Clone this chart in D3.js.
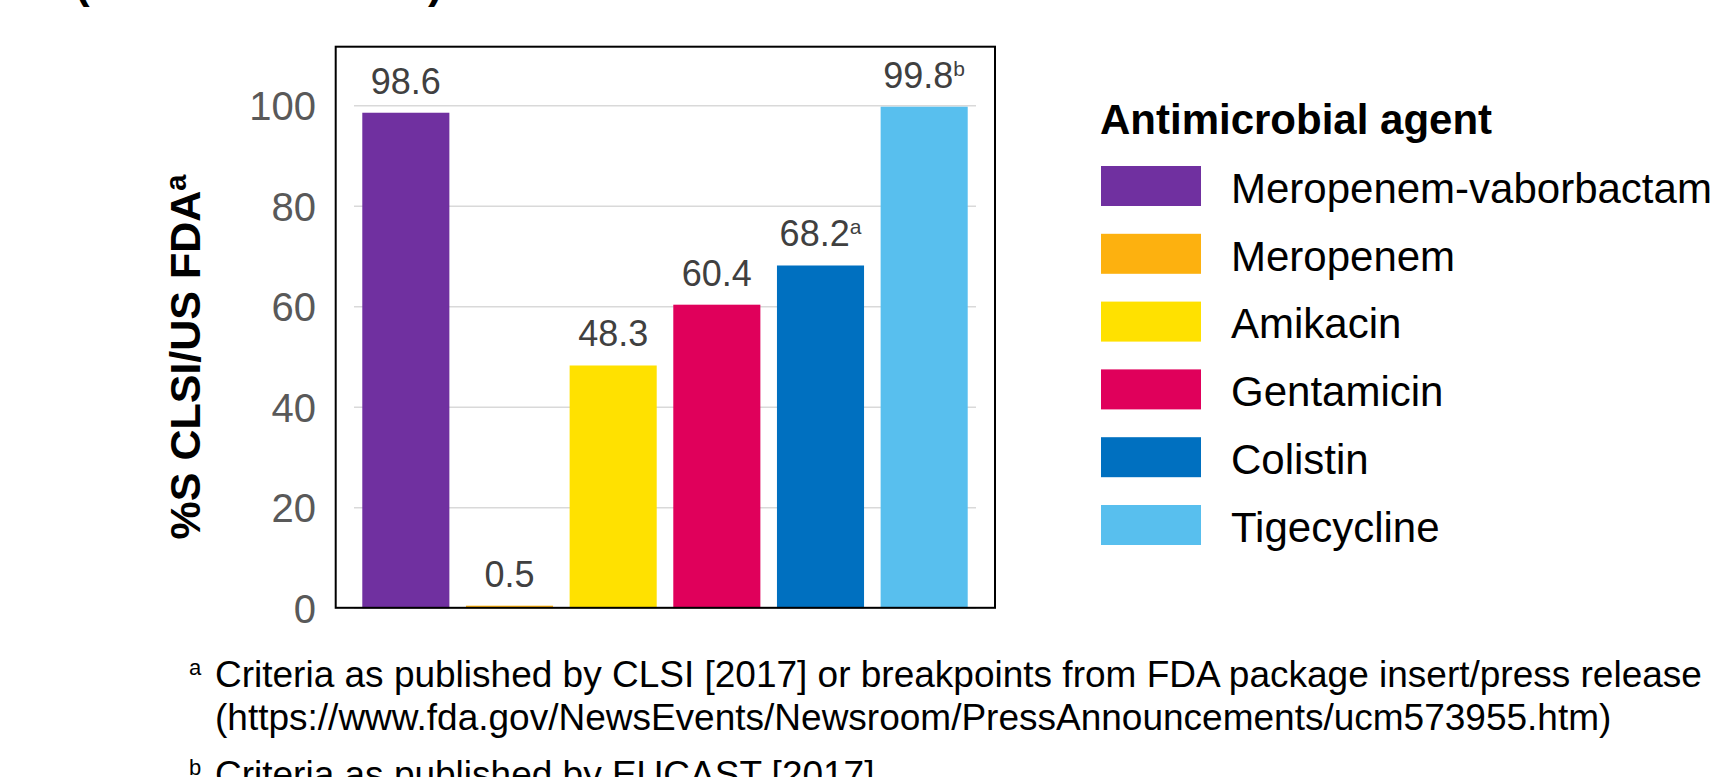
<!DOCTYPE html>
<html>
<head>
<meta charset="utf-8">
<script src="https://cdn.jsdelivr.net/npm/d3@7"></script>
<style>
  html, body { margin: 0; padding: 0; background: #ffffff; }
  svg { display: block; font-family: "Liberation Sans", Arial, sans-serif; }
</style>
</head>
<body>
<svg id="chart" width="1725" height="777"></svg>
<script>
// Susceptibility (%S) by antimicrobial agent
const agents = ["Meropenem-vaborbactam", "Meropenem", "Amikacin", "Gentamicin", "Colistin", "Tigecycline"];
const susceptible = [98.6, 0.5, 48.3, 60.4, 68.2, 99.8];
const valueNotes = ["", "", "", "", "a", "b"];
const agentColors = ["#7030A0", "#FDB10F", "#FFE100", "#E0005B", "#0070C0", "#58BFEE"];
const yTicks = [0, 20, 40, 60, 80, 100];
const yTitle = "%S CLSI/US FDA";
const yTitleNote = "a";
const legendTitle = "Antimicrobial agent";
const footnotes = [
  { mark: "a", lines: ["Criteria as published by CLSI [2017] or breakpoints from FDA package insert/press release",
                       "(https://www.fda.gov/NewsEvents/Newsroom/PressAnnouncements/ucm573955.htm)"] },
  { mark: "b", lines: ["Criteria as published by EUCAST [2017]"] }
];

const svg = d3.select("#chart");

// Title line above the chart (only its lower edge falls inside the page)
svg.append("text").attr("x", 75).attr("y", -2.5)
  .attr("font-size", 44).attr("font-weight", "bold").attr("fill", "#000").text("(");
svg.append("text").attr("x", 428).attr("y", -2.5)
  .attr("font-size", 44).attr("font-weight", "bold").attr("fill", "#000").text(")");

// Scales
const x = d3.scaleBand().domain(agents).range([354, 976]).paddingInner(0.16).paddingOuter(0.08);
const y = d3.scaleLinear().domain([0, 100]).range([608.2, 105.7]);
const color = d3.scaleOrdinal().domain(agents).range(agentColors);

// Gridlines
svg.append("g").selectAll("line").data(yTicks).join("line")
  .attr("x1", 354).attr("x2", 976)
  .attr("y1", d => y(d)).attr("y2", d => y(d))
  .attr("stroke", "#D9D9D9").attr("stroke-width", 1.6);

// Y axis tick labels
const yAxis = d3.axisLeft(y).tickValues(yTicks).tickSize(0).tickPadding(0).tickFormat(d3.format("d"));
const yAxisG = svg.append("g").attr("transform", "translate(316,0)").call(yAxis);
yAxisG.select(".domain").remove();
yAxisG.selectAll("text")
  .attr("font-family", "'Liberation Sans', Arial, sans-serif")
  .attr("font-size", 40).attr("fill", "#595959").attr("dy", "0.35em");

// Bars
const data = agents.map((a, i) => ({ agent: a, value: susceptible[i], note: valueNotes[i] }));
svg.append("g").selectAll("rect").data(data).join("rect")
  .attr("x", d => x(d.agent)).attr("width", x.bandwidth())
  .attr("y", d => y(d.value)).attr("height", d => y(0) - y(d.value))
  .attr("fill", d => color(d.agent));

// Value labels
const labels = svg.append("g").selectAll("text").data(data).join("text")
  .attr("x", d => x(d.agent) + x.bandwidth() / 2)
  .attr("y", d => y(d.value) - 19)
  .attr("text-anchor", "middle").attr("font-size", 36).attr("fill", "#404040");
labels.append("tspan").text(d => d.value.toFixed(1));
labels.filter(d => d.note).append("tspan")
  .attr("font-size", 21).attr("dy", -12).text(d => d.note);

// Chart frame
svg.append("rect").attr("x", 335.7).attr("y", 46.7).attr("width", 995 - 335.7).attr("height", 607.8 - 46.7)
  .attr("fill", "none").attr("stroke", "#000").attr("stroke-width", 2);

// Y axis title
const yt = svg.append("text")
  .attr("transform", "translate(200,357) rotate(-90)")
  .attr("text-anchor", "middle").attr("font-size", 43).attr("font-weight", "bold").attr("fill", "#000");
yt.append("tspan").text(yTitle);
yt.append("tspan").attr("font-size", 29).attr("dy", -14).text(yTitleNote);

// Legend
const legend = svg.append("g").attr("transform", "translate(1101,0)");
legend.append("text").attr("x", -1).attr("y", 133.5)
  .attr("font-size", 42).attr("font-weight", "bold").attr("fill", "#000").text(legendTitle);
const items = legend.selectAll("g.item").data(agents).join("g").attr("class", "item")
  .attr("transform", (d, i) => `translate(0,${166 + i * 67.8})`);
items.append("rect").attr("width", 100).attr("height", 40).attr("fill", d => color(d));
items.append("text").attr("x", 130).attr("y", 36.7)
  .attr("font-size", 42).attr("fill", "#000").text(d => d);

// Footnotes
const fn = svg.append("g");
const lineBase = [[686.7, 729.5], [787]];
footnotes.forEach((f, i) => {
  fn.append("text").attr("x", 189).attr("y", lineBase[i][0] - 12)
    .attr("font-size", 22).attr("fill", "#000").text(f.mark);
  f.lines.forEach((t, j) => {
    fn.append("text").attr("x", 215).attr("y", lineBase[i][j])
      .attr("font-size", 37).attr("fill", "#000").text(t);
  });
});
</script>
</body>
</html>
